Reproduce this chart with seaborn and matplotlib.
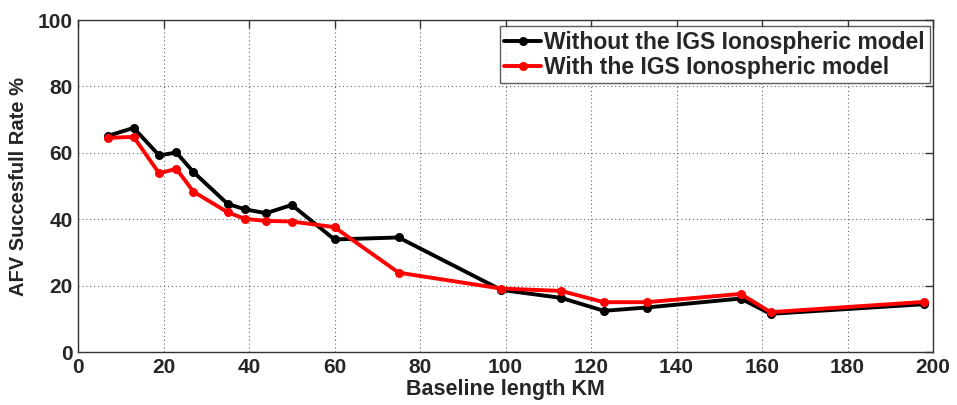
import numpy as np
import pandas as pd
import matplotlib
matplotlib.use("Agg")
import matplotlib.pyplot as plt
import seaborn as sns

# Baseline lengths (km) and AFV success rates (%)
baseline_km = [7, 13, 19, 23, 27, 35, 39, 44, 50, 60, 75, 99, 113, 123, 133, 155, 162, 198]
rate_without_igs = [65.1, 67.5, 59.2, 60.1, 54.2, 44.6, 43.0, 41.8, 44.3, 33.9, 34.5,
                    18.7, 16.3, 12.4, 13.4, 16.1, 11.5, 14.4]
rate_with_igs = [64.5, 64.8, 53.8, 55.2, 48.3, 42.1, 40.1, 39.5, 39.3, 37.6, 23.9,
                 19.1, 18.4, 15.0, 15.0, 17.5, 12.0, 15.1]

series_names = ["Without the IGS Ionospheric model", "With the IGS Ionospheric model"]
series_colors = ["#000000", "#ff0000"]

x_ticks = [0, 20, 40, 60, 80, 100, 120, 140, 160, 180, 200]
y_ticks = [0, 20, 40, 60, 80, 100]

df = pd.DataFrame({
    "Baseline length KM": baseline_km * 2,
    "AFV Succesfull Rate %": rate_without_igs + rate_with_igs,
    "Series": [series_names[0]] * len(baseline_km) + [series_names[1]] * len(baseline_km),
})

sns.set_style("white")
plt.rcParams["font.family"] = ["Liberation Sans", "DejaVu Sans"]
plt.rcParams["font.weight"] = "bold"

fig = plt.figure(figsize=(9.57, 4.05), dpi=100)
ax = fig.add_axes([78 / 957, 1 - 352 / 405, (933 - 78) / 957, (352 - 20) / 405])

sns.lineplot(
    data=df, x="Baseline length KM", y="AFV Succesfull Rate %", hue="Series",
    palette=dict(zip(series_names, series_colors)), hue_order=series_names,
    marker="o", markersize=6.5, markeredgewidth=0, linewidth=2.8,
    ax=ax, legend=True, sort=False,
)

ax.set_xlim(0, 200)
ax.set_ylim(0, 100)
ax.set_xticks(x_ticks)
ax.set_yticks(y_ticks)
ax.grid(True, linestyle=(0, (1, 2.5)), color="#666666", linewidth=0.8)
ax.set_axisbelow(True)
for side in ax.spines.values():
    side.set_visible(True)
    side.set_color("#333333")
    side.set_linewidth(1.0)
ax.tick_params(direction="in", length=6, width=1, color="#333333",
               top=True, right=True, labelsize=15, pad=4)
for lbl in ax.get_xticklabels() + ax.get_yticklabels():
    lbl.set_fontweight("bold")
ax.set_xlabel("Baseline length KM", fontsize=15.5, fontweight="bold", labelpad=2)
ax.set_ylabel("AFV Succesfull Rate %", fontsize=14.5, fontweight="bold", labelpad=7)

leg = ax.legend(loc="upper right", bbox_to_anchor=(0.996, 0.982), fontsize=16.5,
                frameon=True, fancybox=False, borderpad=0.2, handlelength=1.6,
                handletextpad=0.15, labelspacing=0.1, borderaxespad=0.0)
leg.get_frame().set_edgecolor("#333333")
leg.get_frame().set_linewidth(1.0)
for txt in leg.get_texts():
    txt.set_fontweight("bold")

fig.savefig("out.png", dpi=100)
